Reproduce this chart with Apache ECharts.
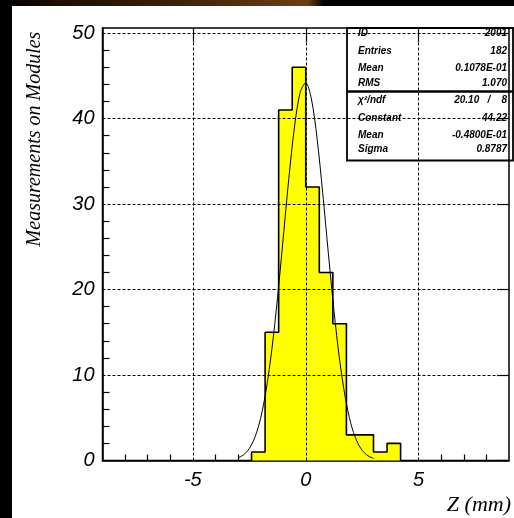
<!DOCTYPE html>
<html><head><meta charset="utf-8">
<script src="https://cdn.jsdelivr.net/npm/echarts@6/dist/echarts.min.js"></script>
<style>
html,body{margin:0;padding:0;background:#000;}
#wrap{position:relative;width:514px;height:518px;background:#000;overflow:hidden;}
#strip{position:absolute;left:0;top:0;width:514px;height:6px;background:linear-gradient(90deg,#000 0%,#000 2%,#1c0c02 10%,#3e2208 35%,#6a3c12 58%,#6a3c12 60%,#000 63%,#000 100%);}
#paper{position:absolute;left:12px;top:6px;right:0;bottom:0;background:#fff;}
#chart{position:absolute;left:0;top:0;width:514px;height:518px;}
</style></head><body>
<div id="wrap"><div id="strip"></div><div id="paper"></div><div id="chart"></div></div>
<script>
// Histogram bins (lower edges + final upper edge) and counts
const binEdges = [-2.4, -1.8, -1.2, -0.6, 0, 0.6, 1.2, 1.8, 2.4, 3.0, 3.6, 4.2];
const binCounts = [1, 15, 41, 46, 32, 22, 16, 3, 3, 1, 2];
// Gaussian fit curve
const fitX = [-3.0,-2.75,-2.5,-2.25,-2.0,-1.75,-1.5,-1.25,-1.0,-0.75,-0.5,-0.25,0,0.25,0.5,0.75,1.0,1.25,1.5,1.75,2.0,2.25,2.5,2.75,3.0];
const fitY = [0.30,0.67,1.40,2.72,4.92,8.29,13.02,19.05,25.97,32.98,39.02,43.03,44.20,42.30,37.72,31.34,24.26,17.50,11.76,7.36,4.29,2.33,1.18,0.56,0.24];
// Axis tick values
const xLabelValues = [-5, 0, 5];
const xMinorTicks = [-8,-7,-6,-4,-3,-2,-1,1,2,3,4,6,7,8];
const yLabelValues = [0, 10, 20, 30, 40, 50];
const yMinorTicks = [2,4,6,8,12,14,16,18,22,24,26,28,32,34,36,38,42,44,46,48];
// Stats box text
const statNames = ['ID', 'Entries', 'Mean', 'RMS', 'χ²/ndf', 'Constant', 'Mean', 'Sigma'];
const statValues = ['2001', '182', '0.1078E-01', '1.070', '20.10   /    8', '44.22', '-0.4800E-01', '0.8787'];

const X_MIN = -9, X_MAX = 9, Y_MIN = 0, Y_MAX = 50.6;

const outline = [[binEdges[0], 0]];
binCounts.forEach((c, i) => outline.push([binEdges[i], c]));
outline.push([binEdges[binEdges.length - 1], binCounts[binCounts.length - 1]]);
outline.push([binEdges[binEdges.length - 1], 0]);

const fitData = fitX.map((x, i) => [x, fitY[i]]);

const labelFont = { color: '#000', fontSize: 20, fontStyle: 'italic', fontFamily: 'Liberation Sans' };

const chart = echarts.init(document.getElementById('chart'), null, { renderer: 'canvas' });

const statRows = [33, 51.5, 68, 83, 100.5, 118, 135, 149.5];
const statGraphics = [];
statNames.forEach((n, i) => {
  statGraphics.push({ type: 'text', x: 358, y: statRows[i], z: 50,
    style: { text: n, fill: '#000', font: 'italic bold 10px "Liberation Sans"', align: 'left', verticalAlign: 'middle' } });
  statGraphics.push({ type: 'text', x: 507, y: statRows[i], z: 50,
    style: { text: statValues[i], fill: '#000', font: 'italic bold 10px "Liberation Sans"', align: 'right', verticalAlign: 'middle' } });
});

chart.setOption({
  backgroundColor: 'transparent',
  animation: false,
  grid: { left: 102.5, right: 1, top: 28, bottom: 57.5, show: true, borderColor: '#000', borderWidth: 1.5, backgroundColor: 'transparent' },
  xAxis: [
    { type: 'value', min: X_MIN, max: X_MAX, gridIndex: 0,
      axisLine: { show: true, onZero: false, lineStyle: { color: '#000', width: 1.5 } },
      axisTick: { show: true, inside: true, length: 6, customValues: xMinorTicks, lineStyle: { color: '#000', width: 1.2 } },
      axisLabel: { show: true, customValues: xLabelValues, margin: 10, ...labelFont },
      splitLine: { show: false },
      name: 'Z (mm)', nameLocation: 'end', nameGap: 2,
      nameTextStyle: { color: '#000', fontSize: 22, fontStyle: 'italic', fontFamily: 'Liberation Serif', align: 'right', verticalAlign: 'top', padding: [34, 0, 0, 0] } },
    { type: 'value', min: X_MIN, max: X_MAX, gridIndex: 0,
      axisLine: { show: false, onZero: false },
      axisTick: { show: true, inside: true, length: 14, customValues: xLabelValues, lineStyle: { color: '#000', width: 1.2 } },
      axisLabel: { show: false }, splitLine: { show: false } }
  ],
  yAxis: [
    { type: 'value', min: Y_MIN, max: Y_MAX, gridIndex: 0,
      axisLine: { show: true, onZero: false, lineStyle: { color: '#000', width: 1.5 } },
      axisTick: { show: true, inside: true, length: 7, customValues: yMinorTicks, lineStyle: { color: '#000', width: 1.2 } },
      axisLabel: { show: true, customValues: yLabelValues, margin: 8, ...labelFont },
      splitLine: { show: false } },
    { type: 'value', min: Y_MIN, max: Y_MAX, gridIndex: 0,
      axisLine: { show: false, onZero: false },
      axisTick: { show: true, inside: true, length: 12, customValues: yLabelValues, lineStyle: { color: '#000', width: 1.2 } },
      axisLabel: { show: false }, splitLine: { show: false } }
  ],
  graphic: [
    { type: 'text', x: 35, y: 139, rotation: Math.PI / 2, z: 50,
      style: { text: 'Measurements on Modules', fill: '#000', font: 'italic 20px "Liberation Serif"', align: 'center', verticalAlign: 'middle' } },
    { type: 'rect', z: 40, shape: { x: 347, y: 28, width: 166, height: 132.5 }, style: { fill: 'none', stroke: '#000', lineWidth: 1.8 } },
    { type: 'line', z: 40, shape: { x1: 347, y1: 91.5, x2: 513, y2: 91.5 }, style: { stroke: '#000', lineWidth: 2.5 } },
    ...statGraphics
  ],
  series: [
    { type: 'line', name: 'hist', xAxisIndex: 0, yAxisIndex: 0, data: outline, step: 'end', symbol: 'none', z: 2,
      lineStyle: { color: '#000', width: 1.6 }, areaStyle: { color: '#ffff00', opacity: 1 } },
    { type: 'line', name: 'fit', xAxisIndex: 0, yAxisIndex: 0, data: fitData, smooth: 0.3, symbol: 'none', z: 3,
      lineStyle: { color: '#000', width: 1 } },
    { type: 'line', name: 'grid', xAxisIndex: 0, yAxisIndex: 0, data: [], z: 60,
      markLine: { silent: true, symbol: 'none', animation: false, label: { show: false },
        lineStyle: { color: '#000', width: 1, type: [3, 2] },
        data: [...xLabelValues.map(v => ({ xAxis: v })), ...yLabelValues.filter(v => v > 0).map(v => ({ yAxis: v }))] } }
  ]
});
</script>
</body></html>
